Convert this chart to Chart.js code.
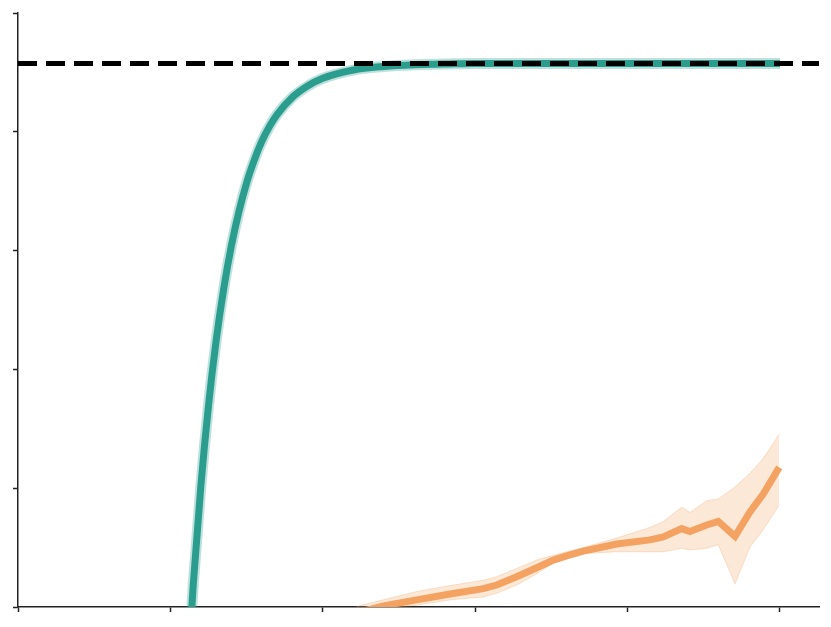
<!DOCTYPE html>
<html>
<head>
<meta charset="utf-8">
<script src="https://cdn.jsdelivr.net/npm/chart.js@4"></script>
<style>
  html, body { margin: 0; padding: 0; background: #fff; }
  #wrap { width: 831px; height: 627px; }
</style>
</head>
<body>
<div id="wrap"><canvas id="chart"></canvas></div>
<script>
// teal curve (fast rise to the plateau)
const tealX = [1.05, 1.10, 1.15, 1.20, 1.25, 1.30, 1.35, 1.40, 1.45, 1.50, 1.55, 1.60, 1.65, 1.70, 1.80, 1.90, 2.00, 2.20, 2.40, 2.60, 2.80, 3.00, 3.50, 4.00, 4.50, 5.00];
const tealY = [-0.42, -0.167, 0.038, 0.204, 0.339, 0.448, 0.536, 0.608, 0.666, 0.714, 0.752, 0.784, 0.809, 0.829, 0.858, 0.877, 0.890, 0.904, 0.910, 0.913, 0.914, 0.915, 0.915, 0.915, 0.915, 0.915];

// orange curve with its band
const orangeX = [2.222, 2.397, 2.616, 2.835, 3.053, 3.141, 3.272, 3.404, 3.513, 3.600, 3.709, 3.928, 4.147, 4.234, 4.355, 4.409, 4.519, 4.595, 4.705, 4.803, 4.890, 4.995];
const orangeY = [-0.01, 0.002, 0.012, 0.022, 0.031, 0.037, 0.051, 0.066, 0.079, 0.086, 0.094, 0.106, 0.113, 0.118, 0.132, 0.127, 0.138, 0.144, 0.119, 0.160, 0.190, 0.235];
const orangeHigh = [0.001, 0.012, 0.026, 0.036, 0.045, 0.051, 0.065, 0.079, 0.087, 0.093, 0.100, 0.116, 0.134, 0.144, 0.168, 0.159, 0.179, 0.182, 0.202, 0.225, 0.250, 0.291];
const orangeLow = [-0.02, -0.002, 0.003, 0.012, 0.017, 0.023, 0.037, 0.056, 0.074, 0.083, 0.090, 0.093, 0.093, 0.093, 0.099, 0.096, 0.099, 0.105, 0.039, 0.101, 0.130, 0.172];

// dashed reference level
const refLevel = 0.915;
const xRange = [0, 5.256];
const yTicks = [0, 0.2, 0.4, 0.6, 0.8, 1.0];
const xTicks = [0, 1, 2, 3, 4, 5];

const pts = (xs, ys) => xs.map((x, i) => ({ x: x, y: ys[i] }));

const teal = '#2a9d8f';
const orange = '#f4a261';

new Chart(document.getElementById('chart'), {
  type: 'line',
  data: {
    datasets: [
      {
        data: [{ x: xRange[0], y: refLevel }, { x: xRange[1], y: refLevel }],
        borderColor: '#000',
        borderWidth: 5,
        borderDash: [19, 9],
        pointRadius: 0,
        fill: false,
      },
      {
        data: pts(tealX, tealY),
        borderColor: teal,
        borderWidth: 7,
        pointRadius: 0,
        cubicInterpolationMode: 'monotone',
        fill: false,
      },
      {
        data: pts(tealX, tealY),
        borderColor: 'rgba(42, 157, 143, 0.3)',
        borderWidth: 11,
        pointRadius: 0,
        cubicInterpolationMode: 'monotone',
        fill: false,
      },
      {
        data: pts(orangeX, orangeY),
        borderColor: orange,
        borderWidth: 7,
        pointRadius: 0,
        tension: 0,
        fill: false,
      },
      {
        data: pts(orangeX, orangeHigh),
        borderColor: 'rgba(244, 162, 97, 0.3)',
        borderWidth: 1,
        backgroundColor: 'rgba(244, 162, 97, 0.25)',
        pointRadius: 0,
        tension: 0,
        fill: '+1',
      },
      {
        data: pts(orangeX, orangeLow),
        borderColor: 'rgba(244, 162, 97, 0.3)',
        borderWidth: 1,
        pointRadius: 0,
        tension: 0,
        fill: false,
      },
    ],
  },
  options: {
    responsive: true,
    maintainAspectRatio: false,
    animation: false,
    layout: { padding: { left: 13, right: 12, top: 13, bottom: 15 } },
    plugins: {
      legend: { display: false },
      tooltip: { enabled: false },
    },
    scales: {
      x: {
        type: 'linear',
        min: xRange[0],
        max: xRange[1],
        afterBuildTicks: axis => { axis.ticks = xTicks.map(v => ({ value: v })); },
        ticks: { display: false },
        grid: { drawOnChartArea: false, drawTicks: true, tickLength: 5, tickColor: '#222', tickWidth: 1.5 },
        border: { color: '#222', width: 1.5 },
      },
      y: {
        min: yTicks[0],
        max: yTicks[yTicks.length - 1],
        afterBuildTicks: axis => { axis.ticks = yTicks.map(v => ({ value: v })); },
        ticks: { display: false },
        grid: { drawOnChartArea: false, drawTicks: true, tickLength: 5, tickColor: '#222', tickWidth: 1.5 },
        border: { color: '#222', width: 1.5 },
      },
    },
  },
});
</script>
</body>
</html>
